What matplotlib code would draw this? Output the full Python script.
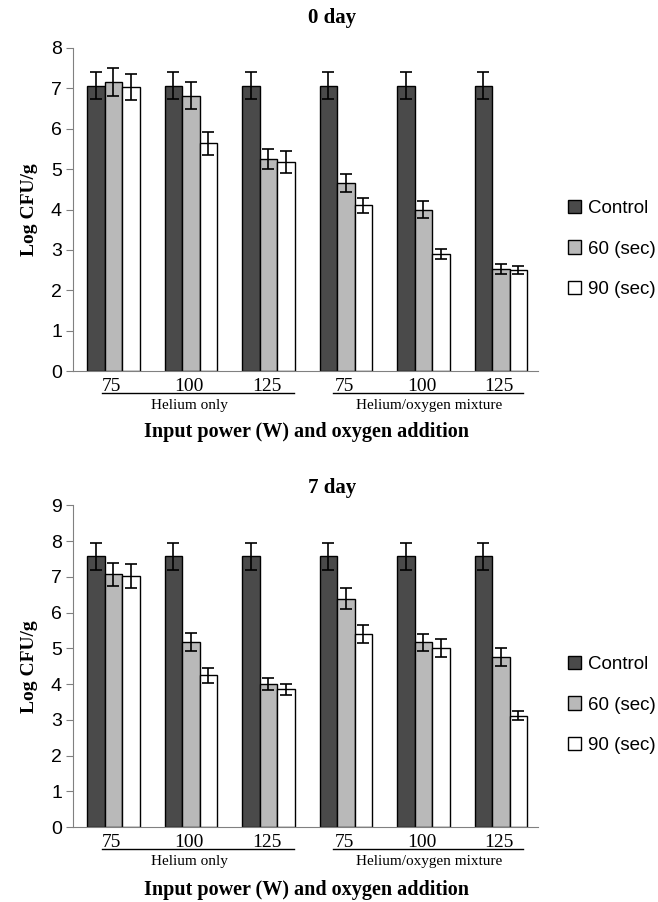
import numpy as np
import matplotlib
matplotlib.use("Agg")
import matplotlib.pyplot as plt
from matplotlib.transforms import blended_transform_factory

plt.rcParams["font.family"] = ["Liberation Sans", "DejaVu Sans"]

powers = ["75", "100", "125", "75", "100", "125"]
series = ["Control", "60 (sec)", "90 (sec)"]
colors = ["#4a4a4a", "#b9b9b9", "#ffffff"]

# 0 day
day0_control = [7.07, 7.07, 7.07, 7.07, 7.07, 7.07]
day0_60 = [7.15, 6.82, 5.25, 4.65, 4.00, 2.53]
day0_90 = [7.03, 5.64, 5.17, 4.10, 2.89, 2.50]
day0_control_err = [0.33, 0.33, 0.33, 0.33, 0.33, 0.33]
day0_60_err = [0.35, 0.33, 0.25, 0.22, 0.21, 0.13]
day0_90_err = [0.33, 0.29, 0.27, 0.18, 0.12, 0.10]

# 7 day
day7_control = [7.58, 7.58, 7.58, 7.58, 7.58, 7.58]
day7_60 = [7.07, 5.17, 3.99, 6.39, 5.17, 4.76]
day7_90 = [7.03, 4.24, 3.85, 5.41, 5.01, 3.12]
day7_control_err = [0.38, 0.38, 0.38, 0.38, 0.38, 0.38]
day7_60_err = [0.33, 0.25, 0.17, 0.30, 0.24, 0.25]
day7_90_err = [0.33, 0.21, 0.16, 0.25, 0.26, 0.13]

W, H = 658, 902
fig = plt.figure(figsize=(W/100, H/100), dpi=100)
serif = "Liberation Serif"


def panel(rect, title, vals, errs, ymax, title_y, xlabel_y, legend_y):
    ax = fig.add_axes(rect)
    x = np.arange(len(powers))
    bw = 0.226
    for i in range(3):
        ax.bar(x + (i - 1)*bw + 0.02, vals[i], bw, color=colors[i], edgecolor="black",
               linewidth=1.0, label=series[i], zorder=2)
        ax.errorbar(x + (i - 1)*bw + 0.02, vals[i], yerr=errs[i], fmt="none",
                    ecolor="black", elinewidth=1.2, capsize=4, capthick=1.2, zorder=3)
    ax.set_xlim(-0.5, 5.5)
    ax.set_ylim(0, ymax)
    ax.set_yticks(range(ymax + 1))
    for s in ["top", "right"]:
        ax.spines[s].set_visible(False)
    for s in ["left", "bottom"]:
        ax.spines[s].set_color("#808080")
    ax.tick_params(axis="y", length=5, color="#808080", labelsize=14, pad=3)
    ax.set_xticks(x)
    ax.set_xticklabels(powers, fontfamily=serif, fontsize=14)
    ax.tick_params(axis="x", length=0, pad=5)
    ax.set_ylabel("Log CFU/g", fontfamily=serif, fontweight="bold", fontsize=14, labelpad=9)

    h_px = rect[3]*H
    tr = blended_transform_factory(ax.transData, ax.transAxes)
    ly = -22/h_px
    ax.plot([-0.12, 2.35], [ly, ly], color="black", lw=1.0, transform=tr, clip_on=False)
    ax.plot([2.85, 5.3], [ly, ly], color="black", lw=1.0, transform=tr, clip_on=False)
    ax.text(1.0, -34/h_px, "Helium only", transform=tr, ha="center", va="center",
            fontfamily=serif, fontsize=11)
    ax.text(4.1, -34/h_px, "Helium/oxygen mixture", transform=tr, ha="center", va="center",
            fontfamily=serif, fontsize=11)

    fig.text(306/W, 1 - xlabel_y/H, "Input power (W) and oxygen addition", ha="center",
             va="center", fontfamily=serif, fontweight="bold", fontsize=14.5)
    fig.text(332/W, 1 - title_y/H, title, ha="center", va="center",
             fontfamily=serif, fontweight="bold", fontsize=15)
    ax.legend(loc="center left", bbox_to_anchor=(568/W, 1 - legend_y/H),
              bbox_transform=fig.transFigure, frameon=False, fontsize=13.5,
              handlelength=0.7, handleheight=0.7, handletextpad=0.35, labelspacing=1.25,
              borderpad=0, borderaxespad=0)
    return ax


panel([73/W, 1 - 371/H, 465/W, 323/H], "0 day",
      [day0_control, day0_60, day0_90], [day0_control_err, day0_60_err, day0_90_err],
      8, 18, 432, 249)
panel([73/W, 1 - 827/H, 465/W, 321.6/H], "7 day",
      [day7_control, day7_60, day7_90], [day7_control_err, day7_60_err, day7_90_err],
      9, 488, 890, 705)

fig.savefig("out.png", dpi=100)
